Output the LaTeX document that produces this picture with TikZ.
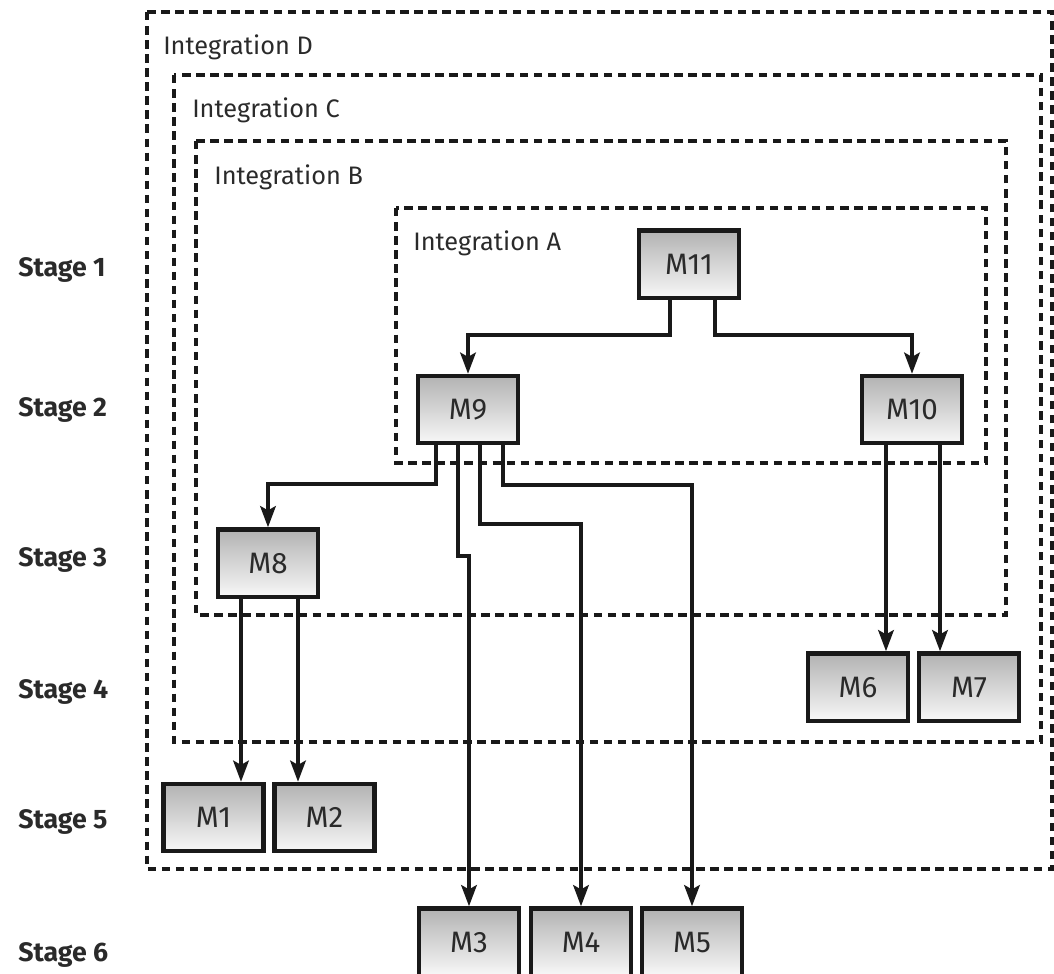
\documentclass[tikz,border=0pt]{standalone}
\usepackage{fontspec}
\setmainfont{Fira Sans}
\usetikzlibrary{arrows.meta,calc}
\definecolor{txt}{HTML}{2A2A2A}
\tikzset{
  mbox/.style={draw=black!90, line width=3pt, top color=black!30, bottom color=black!3,
    minimum width=2.5cm, minimum height=1.68cm, inner sep=0pt, text=txt,
    font=\fontsize{21}{24}\selectfont},
  arr/.style={line width=2.8pt, -{Stealth[length=15pt,width=11pt,inset=3pt]}, black!90},
  grp/.style={line width=2.5pt, dash pattern=on 6pt off 4pt, black!90},
  grplabel/.style={anchor=base west, inner sep=0pt, text=txt, font=\fontsize{18}{21}\selectfont},
  stagelabel/.style={anchor=west, inner sep=0pt, text=txt, font=\fontsize{19}{22}\selectfont\bfseries},
}
\begin{document}
\begin{tikzpicture}[x=0.025cm, y=-0.025cm]
\useasboundingbox (0,0) rectangle (1054,974);
% groups
\draw[grp] (147,12) rectangle (1052,869);
\draw[grp] (174,75) rectangle (1041,742);
\draw[grp] (196,141) rectangle (1006,615);
\draw[grp] (396,208) rectangle (986,463);
\node[grplabel] (gD) at (163,54) {Integration D};
\node[grplabel] (gC) at (192,117) {Integration C};
\node[grplabel] (gB) at (214,184) {Integration B};
\node[grplabel] (gA) at (413,250) {Integration A};
% stage labels
\node[stagelabel] (s1) at (18,270) {Stage 1};
\node[stagelabel] (s2) at (18,410) {Stage 2};
\node[stagelabel] (s3) at (18,560) {Stage 3};
\node[stagelabel] (s4) at (18,692) {Stage 4};
\node[stagelabel] (s5) at (18,822) {Stage 5};
\node[stagelabel] (s6) at (18,955) {Stage 6};
% modules
\node[mbox] (M11) at (689,264) {M11};
\node[mbox] (M9) at (468,409.5) {M9};
\node[mbox] (M10) at (912,409.5) {M10};
\node[mbox] (M8) at (268,563) {M8};
\node[mbox] (M6) at (858,687) {M6};
\node[mbox] (M7) at (969,687) {M7};
\node[mbox] (M1) at (213.5,817.5) {M1};
\node[mbox] (M2) at (324.5,817.5) {M2};
\node[mbox] (M3) at (469,942) {M3};
\node[mbox] (M4) at (581,942) {M4};
\node[mbox] (M5) at (692,942) {M5};
% connectors
\draw[arr] ($(M11.south)+(-19,0)$) |- ($(M9.north)+(0,-39)$) -- (M9.north);
\draw[arr] ($(M11.south)+(26,0)$) |- ($(M10.north)+(0,-39)$) -- (M10.north);
\draw[arr] ($(M9.south)+(-32,0)$) |- ($(M8.north)+(0,-43)$) -- (M8.north);
\draw[arr] ($(M9.south)+(-10,0)$) |- ($(M3.north)+(0,-350)$) -- (M3.north);
\draw[arr] ($(M9.south)+(12,0)$) |- ($(M4.north)+(0,-382)$) -- (M4.north);
\draw[arr] ($(M9.south)+(35,0)$) |- ($(M5.north)+(0,-421)$) -- (M5.north);
\coordinate (a1) at ($(M8.south)+(-27,0)$);
\coordinate (a2) at ($(M8.south)+(30,0)$);
\draw[arr] (a1) -- (a1 |- M1.north);
\draw[arr] (a2) -- (a2 |- M2.north);
\coordinate (b1) at ($(M10.south)+(-26,0)$);
\coordinate (b2) at ($(M10.south)+(28,0)$);
\draw[arr] (b1) -- (b1 |- M6.north);
\draw[arr] (b2) -- (b2 |- M7.north);
\end{tikzpicture}
\end{document}
